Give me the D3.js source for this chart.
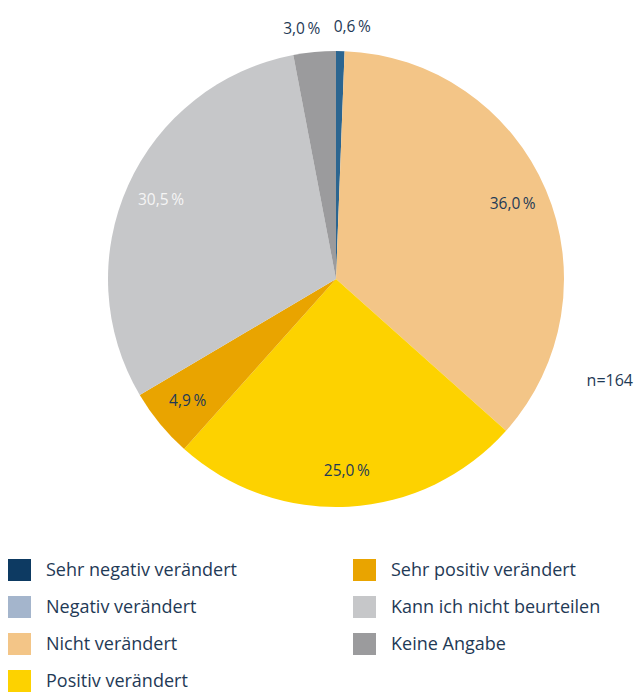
<!DOCTYPE html>
<html>
<head>
<meta charset="utf-8">
<script src="https://cdnjs.cloudflare.com/ajax/libs/d3/7.8.5/d3.min.js"></script>
<style>
  body { margin: 0; background: #fff; }
  svg text { font-family: "Open Sans", "Noto Sans", sans-serif; }
</style>
</head>
<body>
<div id="chart"></div>
<script>
// categories in pie order (clockwise from 12 o'clock)
var categories = ["Sehr negativ verändert", "Negativ verändert", "Nicht verändert",
  "Positiv verändert", "Sehr positiv verändert", "Kann ich nicht beurteilen", "Keine Angabe"];
var values = [0.6, 0, 36.0, 25.0, 4.9, 30.5, 3.0];
var colors = ["#0d3a62", "#a4b5cc", "#f3c587", "#fdd200", "#e9a400", "#c6c7c9", "#9b9b9d"];
var sliceColors = ["#2b6590", "#a4b5cc", "#f3c587", "#fdd200", "#e9a400", "#c6c7c9", "#9b9b9d"];
var labelColors = ["#1f3a56", "#1f3a56", "#1f3a56", "#1f3a56", "#1f3a56", "#f5f5f5", "#1f3a56"];
var legendCols = [[0, 1, 2, 3], [4, 5, 6]];
var sampleNote = "n=164";

var width = 635, height = 693;
var cx = 336, cy = 279, radius = 228;

var svg = d3.select("#chart").append("svg")
  .attr("width", width)
  .attr("height", height);

var g = svg.append("g")
  .attr("transform", "translate(" + cx + "," + cy + ")");

var pie = d3.pie().sort(null).value(function(d) { return d; });
var arcs = pie(values);

var arc = d3.arc().innerRadius(0).outerRadius(radius);
var labelArc = d3.arc().innerRadius(192).outerRadius(192);
var outerArc = d3.arc().innerRadius(252).outerRadius(252);

g.selectAll("path.slice")
  .data(arcs)
  .enter()
  .append("path")
  .attr("class", "slice")
  .attr("d", arc)
  .attr("fill", function(d, i) { return sliceColors[i]; });

var fmt = function(v) { return d3.format(".1f")(v).replace(".", ",") + "\u2009%"; };

// labels: big slices inside, tiny ones outside at the top
g.selectAll("text.lbl")
  .data(arcs.filter(function(d) { return d.value > 0; }))
  .enter()
  .append("text")
  .attr("class", "lbl")
  .attr("font-size", 15.5)
  .attr("dy", "0.35em")
  .attr("fill", function(d) { return labelColors[d.index]; })
  .attr("text-anchor", function(d) {
    if (d.value >= 4) return "middle";
    var mid = (d.startAngle + d.endAngle) / 2;
    return mid > Math.PI ? "end" : "start";
  })
  .attr("transform", function(d) {
    if (d.value >= 4) return "translate(" + labelArc.centroid(d) + ")";
    var c = outerArc.centroid(d);
    var mid = (d.startAngle + d.endAngle) / 2;
    var shift = mid > Math.PI ? 8 : -7;
    return "translate(" + (c[0] + shift) + "," + c[1] + ")";
  })
  .text(function(d) { return fmt(d.value); });

svg.append("text")
  .attr("x", 633)
  .attr("y", 380)
  .attr("dy", "0.35em")
  .attr("text-anchor", "end")
  .attr("font-size", 16)
  .attr("fill", "#1f3a56")
  .text(sampleNote);

// legend
var colX = [8, 353];
var rowY = d3.scaleLinear().domain([0, 3]).range([570, 681]);

legendCols.forEach(function(col, ci) {
  var lg = svg.append("g").selectAll("g")
    .data(col)
    .enter()
    .append("g")
    .attr("transform", function(d, i) { return "translate(" + colX[ci] + "," + rowY(i) + ")"; });
  lg.append("rect")
    .attr("x", 0)
    .attr("y", -11)
    .attr("width", 23)
    .attr("height", 22)
    .attr("fill", function(d) { return colors[d]; });
  lg.append("text")
    .attr("x", 38)
    .attr("dy", "0.35em")
    .attr("font-size", 18)
    .attr("fill", "#1f3a56")
    .text(function(d) { return categories[d]; });
});
</script>
</body>
</html>
